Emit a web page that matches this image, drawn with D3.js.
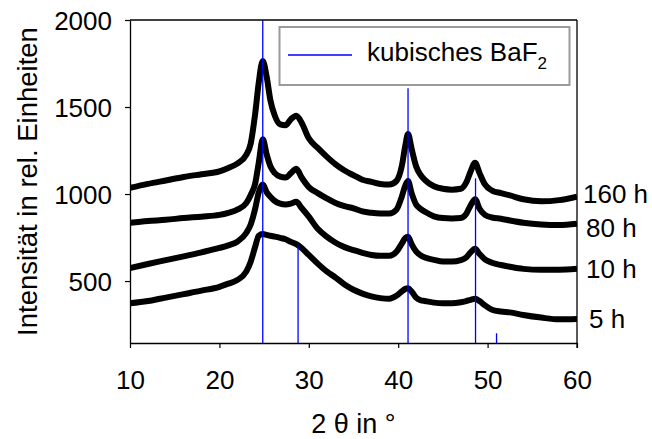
<!DOCTYPE html>
<html>
<head>
<meta charset="utf-8">
<script src="https://cdn.jsdelivr.net/npm/d3@7"></script>
<style>
  html, body { margin: 0; padding: 0; background: #fff; }
  svg { display: block; font-family: "Liberation Sans", Arial, sans-serif; }
</style>
</head>
<body>
<svg id="chart" width="652" height="439"></svg>
<script>
// ---- data ----
const twoTheta = [10, 12, 14, 16, 18, 20, 21, 22, 23, 23.5, 24, 24.4, 24.85, 25.3, 25.7, 26.2, 26.8, 27.4, 28, 28.6, 29.2, 30, 31, 32, 33, 34, 35, 36, 37, 38, 39, 39.8, 40.4, 40.8, 41.1, 41.5, 42, 42.5, 43, 44, 45, 46, 47, 47.6, 48.1, 48.6, 49.1, 49.7, 50.5, 51.5, 52.5, 54, 56, 58, 60];

const h160 = [1035, 1058, 1078, 1098, 1114, 1130, 1150, 1175, 1225, 1290, 1460, 1640, 1765, 1670, 1540, 1450, 1400, 1395, 1430, 1450, 1410, 1320, 1265, 1215, 1170, 1135, 1108, 1082, 1070, 1058, 1055, 1075, 1160, 1280, 1345, 1260, 1160, 1110, 1080, 1045, 1030, 1025, 1030, 1065, 1130, 1180, 1120, 1055, 1020, 1005, 992, 970, 958, 965, 985];
const h80 = [835, 845, 852, 862, 870, 880, 892, 910, 948, 995, 1060, 1180, 1315, 1225, 1160, 1120, 1100, 1095, 1120, 1145, 1095, 1040, 1005, 975, 948, 930, 918, 900, 892, 888, 888, 910, 985, 1050, 1075, 1005, 940, 915, 898, 872, 862, 860, 862, 885, 935, 970, 915, 880, 865, 858, 848, 835, 825, 822, 830];
const h10 = [575, 598, 620, 642, 665, 690, 705, 726, 776, 825, 915, 1010, 1055, 1010, 985, 960, 945, 940, 945, 955, 920, 870, 800, 755, 720, 695, 678, 662, 650, 645, 645, 668, 715, 748, 755, 712, 670, 648, 635, 622, 612, 612, 620, 635, 665, 685, 655, 625, 605, 592, 582, 570, 565, 565, 570];
const h5 = [372, 385, 405, 425, 445, 467, 485, 506, 554, 611, 697, 760, 770, 765, 760, 755, 748, 740, 725, 712, 690, 650, 600, 555, 520, 480, 450, 428, 412, 402, 398, 415, 440, 455, 458, 440, 405, 390, 385, 376, 372, 372, 378, 385, 392, 398, 385, 360, 335, 325, 320, 305, 290, 280, 282];

const seriesLabels = ["160 h", "80 h", "10 h", "5 h"];
const seriesValues = [h160, h80, h10, h5];
// intensity level at which each series label sits (right of the plot)
const labelLevels = [1000, 805, 569, 284];

// reference pattern: cubic BaF2
const refPos = [24.85, 28.8, 41.1, 48.65, 51.0];
const refInt = [2000, 703, 1608, 1090, 200];
const legendLabel = "kubisches BaF";
const legendSub = "2";

const xTicks = [10, 20, 30, 40, 50, 60];
const yTicks = [500, 1000, 1500, 2000];
const xDomain = [10, 60];
const yDomain = [144, 2000];
const xTitle = "2 \u03b8 in \u00b0";
const yTitle = "Intensit\u00e4t in rel. Einheiten";

// ---- layout ----
const L = 130, R = 577, T = 20, B = 343;
const svg = d3.select("#chart");
const x = d3.scaleLinear().domain(xDomain).range([L, R]);
const y = d3.scaleLinear().domain(yDomain).range([B, T]);

svg.append("defs").append("clipPath").attr("id", "plotclip")
  .append("rect").attr("x", L).attr("y", T).attr("width", R - L).attr("height", B - T);

const plot = svg.append("g").attr("clip-path", "url(#plotclip)");

const line = d3.line()
  .x((d, i) => x(twoTheta[i]))
  .y(d => y(d))
  .curve(d3.curveMonotoneX);

seriesValues.forEach(vals => {
  plot.append("path")
    .datum(vals)
    .attr("d", line)
    .attr("fill", "none")
    .attr("stroke", "#000")
    .attr("stroke-width", 6)
    .attr("stroke-linejoin", "round");
});

// reference sticks
plot.selectAll("line.ref")
  .data(refPos)
  .enter().append("line")
  .attr("class", "ref")
  .attr("x1", d => x(d)).attr("x2", d => x(d))
  .attr("y1", y(yDomain[0]))
  .attr("y2", (d, i) => y(refInt[i]))
  .attr("stroke", "#0000ff")
  .attr("stroke-width", 1.3);

// axes
const fs = 26;
const xAxis = d3.axisBottom(x).tickValues(xTicks).tickFormat(d3.format("d"))
  .tickSize(5).tickSizeOuter(0).tickPadding(23);
const gx = svg.append("g").attr("transform", `translate(0,${B})`).call(xAxis);
const yAxis = d3.axisLeft(y).tickValues(yTicks).tickFormat(d3.format("d"))
  .tickSize(5).tickSizeOuter(0).tickPadding(13);
const gy = svg.append("g").attr("transform", `translate(${L},0)`).call(yAxis);

[gx, gy].forEach(g => {
  g.selectAll("text").attr("font-size", fs).attr("fill", "#000")
    .attr("font-family", "'Liberation Sans', Arial, sans-serif");
  g.selectAll("line").attr("stroke", "#000").attr("stroke-width", 1.2);
  g.select(".domain").attr("stroke", "#000").attr("stroke-width", 1.3);
});
gx.selectAll("text").attr("dy", "0.71em");
gy.selectAll("text").attr("dy", "0.36em");

// top and right frame
svg.append("line").attr("x1", L).attr("x2", R).attr("y1", T).attr("y2", T)
  .attr("stroke", "#000").attr("stroke-width", 1.3);
svg.append("line").attr("x1", R).attr("x2", R).attr("y1", T).attr("y2", B + 5)
  .attr("stroke", "#000").attr("stroke-width", 1.3);

// series labels at the right
svg.selectAll("text.slabel")
  .data(seriesLabels)
  .enter().append("text")
  .attr("class", "slabel")
  .attr("x", (d, i) => R + (i === 0 ? 6 : i === 3 ? 12 : 9))
  .attr("y", (d, i) => y(labelLevels[i]))
  .attr("dy", "0.36em")
  .attr("font-size", fs)
  .attr("fill", "#000")
  .text(d => d);

// legend
const lg = svg.append("g");
lg.append("rect").attr("x", 279.5).attr("y", 27).attr("width", 290).attr("height", 58)
  .attr("fill", "#fff").attr("stroke", "#9a9a9a").attr("stroke-width", 2);
lg.append("line").attr("x1", 288).attr("x2", 352).attr("y1", 55).attr("y2", 55)
  .attr("stroke", "#0000ff").attr("stroke-width", 1.3);
const lt = lg.append("text").attr("x", 367).attr("y", 61).attr("font-size", fs).attr("fill", "#000");
lt.append("tspan").text(legendLabel);
lt.append("tspan").attr("font-size", 17).attr("dy", 8).text(legendSub);

// axis titles
svg.append("text")
  .attr("x", (L + R) / 2).attr("y", 433)
  .attr("text-anchor", "middle").attr("font-size", 27).attr("fill", "#000")
  .text(xTitle);
svg.append("text")
  .attr("transform", `translate(37,${(T + B) / 2}) rotate(-90)`)
  .attr("text-anchor", "middle").attr("font-size", 27.5).attr("fill", "#000")
  .text(yTitle);
</script>
</body>
</html>
